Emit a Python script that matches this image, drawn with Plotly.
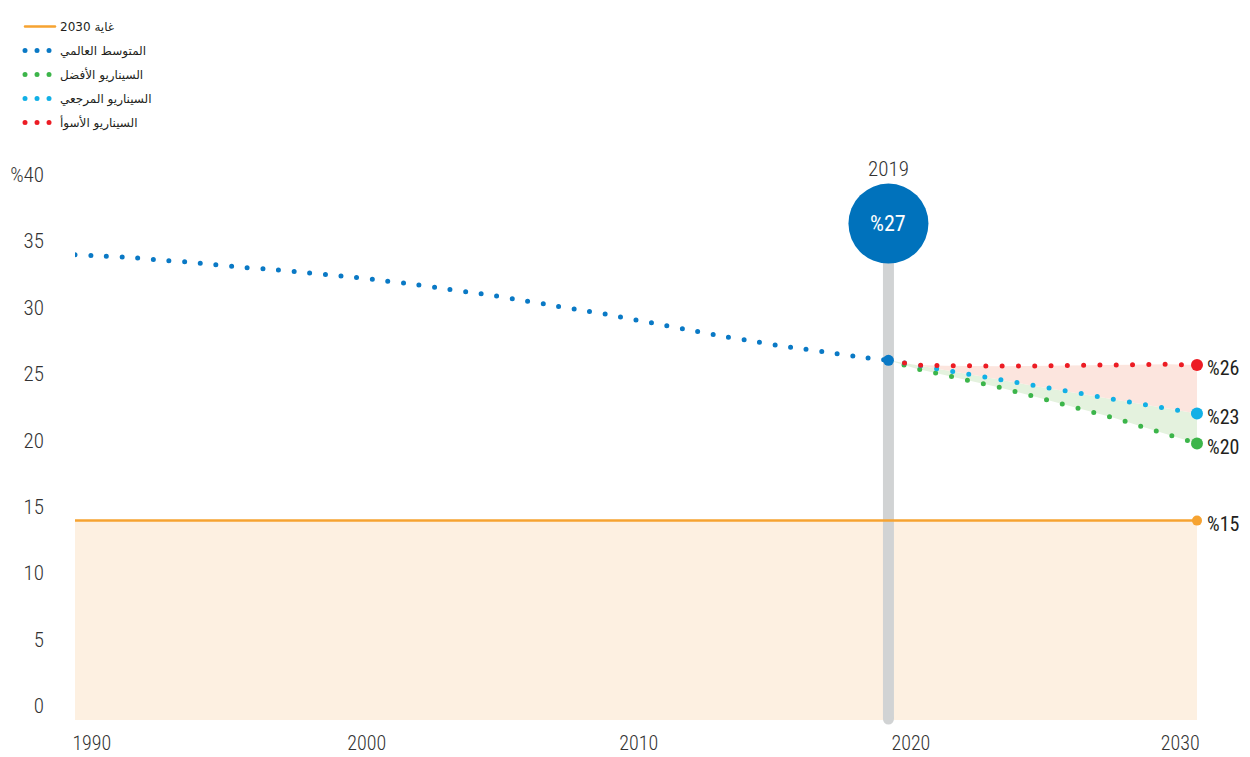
import plotly.graph_objects as go

# ---------------- data ----------------
hist_years = list(range(1990, 2020))
world_avg = [35.0, 34.9, 34.8, 34.6, 34.45, 34.25, 34.05, 33.9, 33.7, 33.5,
             33.3, 33.05, 32.8, 32.5, 32.2, 31.9, 31.55, 31.2, 30.85, 30.5,
             30.1, 29.7, 29.3, 28.9, 28.55, 28.2, 27.9, 27.6, 27.3, 27.06]

scen_years = list(range(2019, 2031))
best_case = [27.06, 26.42, 25.95, 25.5, 25.0, 24.45, 23.9, 23.35, 22.75, 22.1, 21.45, 20.8]
reference_case = [27.06, 26.7, 26.3, 25.95, 25.6, 25.2, 24.85, 24.5, 24.1, 23.75, 23.4, 23.05]
worst_case = [27.06, 26.7, 26.65, 26.62, 26.62, 26.63, 26.66, 26.7, 26.74, 26.76, 26.76, 26.7]

target_years = [1990, 2030]
target_2030 = [15, 15]

legend_names = ["غاية 2030", "المتوسط العالمي", "السيناريو الأفضل", "السيناريو المرجعي", "السيناريو الأسوأ"]
end_label_worst = "%26"
end_label_ref = "%23"
end_label_best = "%20"
end_label_target = "%15"
highlight_year_text = "2019"
highlight_value_text = "%27"

y_tick_vals = [0, 5, 10, 15, 20, 25, 30, 35, 40]
y_tick_text = ["0", "5", "10", "15", "20", "25", "30", "35", "%40"]
x_tick_text = ["1990", "2000", "2010", "2020", "2030"]
x_tick_pos = [1990.6, 2000.4, 2010.1, 2019.8, 2029.4]

# ---------------- styles ----------------
ORANGE = "#f6a331"
BLUE = "#0a79c5"
GREEN = "#3cb54a"
CYAN = "#12b0e6"
RED = "#ec1c24"
BUBBLE = "#0072bc"
GREY = "#d1d3d4"
TXT = "#231f20"
NUM_FONT = ("Roboto Condensed, Noto Sans Condensed, DejaVu Sans Condensed, "
            "Liberation Sans Narrow, Roboto, sans-serif")

fig = go.Figure()

# scenario fills
fig.add_trace(go.Scatter(x=scen_years, y=best_case, mode="lines", line=dict(width=0),
                         showlegend=False, hoverinfo="skip"))
fig.add_trace(go.Scatter(x=scen_years, y=reference_case, mode="lines", line=dict(width=0),
                         fill="tonexty", fillcolor="#e4f2de", showlegend=False, hoverinfo="skip"))
fig.add_trace(go.Scatter(x=scen_years, y=worst_case, mode="lines", line=dict(width=0),
                         fill="tonexty", fillcolor="#fce5de", showlegend=False, hoverinfo="skip"))

# lines
fig.add_trace(go.Scatter(x=target_years, y=target_2030, mode="lines",
                         line=dict(color=ORANGE, width=2.5), showlegend=False, hoverinfo="skip"))
fig.add_trace(go.Scatter(x=hist_years, y=world_avg, mode="lines",
                         line=dict(color=BLUE, width=5, dash="0px,15.7px", shape="spline", smoothing=0.6),
                         showlegend=False, hoverinfo="skip"))
fig.add_trace(go.Scatter(x=scen_years, y=best_case, mode="lines",
                         line=dict(color=GREEN, width=5, dash="0px,16.3px"), showlegend=False, hoverinfo="skip"))
fig.add_trace(go.Scatter(x=scen_years, y=reference_case, mode="lines",
                         line=dict(color=CYAN, width=5, dash="0px,16.3px"), showlegend=False, hoverinfo="skip"))
fig.add_trace(go.Scatter(x=scen_years, y=worst_case, mode="lines",
                         line=dict(color=RED, width=5, dash="0px,16.3px"), showlegend=False, hoverinfo="skip"))

# end points
fig.add_trace(go.Scatter(
    x=[scen_years[-1], scen_years[-1], scen_years[-1], target_years[-1], hist_years[-1]],
    y=[worst_case[-1], reference_case[-1], best_case[-1], target_2030[-1], world_avg[-1]],
    mode="markers", cliponaxis=False,
    marker=dict(color=[RED, CYAN, GREEN, ORANGE, BLUE], size=[12, 12, 12, 10, 11],
                opacity=1, line=dict(width=0)),
    showlegend=False, hoverinfo="skip"))

# legend entries
leg_styles = [(ORANGE, 2.5, "solid"), (BLUE, 5, "0px,12px"), (GREEN, 5, "0px,12px"),
              (CYAN, 5, "0px,12px"), (RED, 5, "0px,12px")]
for i, (name, (c, w, d)) in enumerate(zip(legend_names, leg_styles)):
    fig.add_trace(go.Scatter(x=[None], y=[None], mode="lines", name=name,
                             line=dict(color=c, width=w, dash=d), legendgroup=str(i)))

# ---------------- shapes ----------------
shapes = [
    dict(type="rect", layer="below", xref="x", yref="y",
         x0=target_years[0], x1=target_years[-1], y0=0, y1=target_2030[0],
         fillcolor="#fdf0e1", line=dict(width=0)),
    dict(type="rect", layer="below", xref="x", yref="y",
         xsizemode="pixel", ysizemode="pixel", xanchor=hist_years[-1], yanchor=world_avg[-1],
         x0=-5.5, x1=5.5, y0=-358.8, y1=136.7, fillcolor=GREY, line=dict(width=0)),
    dict(type="circle", layer="below", xref="x", yref="y",
         xsizemode="pixel", ysizemode="pixel", xanchor=hist_years[-1], yanchor=world_avg[-1],
         x0=-5.5, x1=5.5, y0=-364.3, y1=-353.3, fillcolor=GREY, line=dict(width=0)),
    dict(type="circle", layer="below", xref="x", yref="y",
         xsizemode="pixel", ysizemode="pixel", xanchor=hist_years[-1], yanchor=world_avg[-1],
         x0=-40, x1=40, y0=96.7, y1=176.7, fillcolor=BUBBLE, line=dict(width=0)),
]

annotations = [
    dict(x=hist_years[-1], y=world_avg[-1], xref="x", yref="y", text=highlight_value_text,
         showarrow=False, yshift=136.7, font=dict(family=NUM_FONT, size=22, color="white")),
    dict(x=hist_years[-1], y=world_avg[-1], xref="x", yref="y", text=highlight_year_text,
         showarrow=False, yshift=191.5, font=dict(family=NUM_FONT, size=21, weight=300, color="#333333")),
]
for yv, t in [(worst_case[-1], end_label_worst), (reference_case[-1], end_label_ref),
              (best_case[-1], end_label_best), (target_2030[-1], end_label_target)]:
    annotations.append(dict(x=scen_years[-1], y=yv, xref="x", yref="y", text=t, showarrow=False,
                            xanchor="left", xshift=8, yshift=-3,
                            font=dict(family=NUM_FONT, size=20, color=TXT)))

fig.update_layout(
    width=1250, height=757,
    margin=dict(l=75, r=53, t=16, b=32),
    paper_bgcolor="white", plot_bgcolor="white",
    shapes=shapes, annotations=annotations,
    showlegend=True,
    legend=dict(x=-0.049, y=1.0098, xanchor="left", yanchor="top",
                bgcolor="rgba(0,0,0,0)", itemwidth=30, tracegroupgap=5,
                font=dict(family="DejaVu Sans", size=12, color=TXT)),
    xaxis=dict(range=[1990, 2030], showgrid=False, zeroline=False, showline=False,
               ticks="", tickvals=x_tick_pos, ticktext=x_tick_text, automargin=False,
               ticklabelstandoff=4,
               tickfont=dict(family=NUM_FONT, size=20, weight=300, color="#333333")),
    yaxis=dict(range=[-5 / 13.35, 704 / 13.35], showgrid=False, zeroline=False, showline=False,
               ticks="", tickvals=y_tick_vals, ticktext=y_tick_text, ticklabelshift=-14,
               ticklabelstandoff=30, automargin=False,
               tickfont=dict(family=NUM_FONT, size=21, weight=300, color="#333333")),
)

post = ("document.body.style.margin='0';"
        "document.querySelectorAll('path.js-line').forEach(function(p){p.style.strokeLinecap='round';});")
fig.write_html("out.html", post_script=post, config={"displayModeBar": False})
